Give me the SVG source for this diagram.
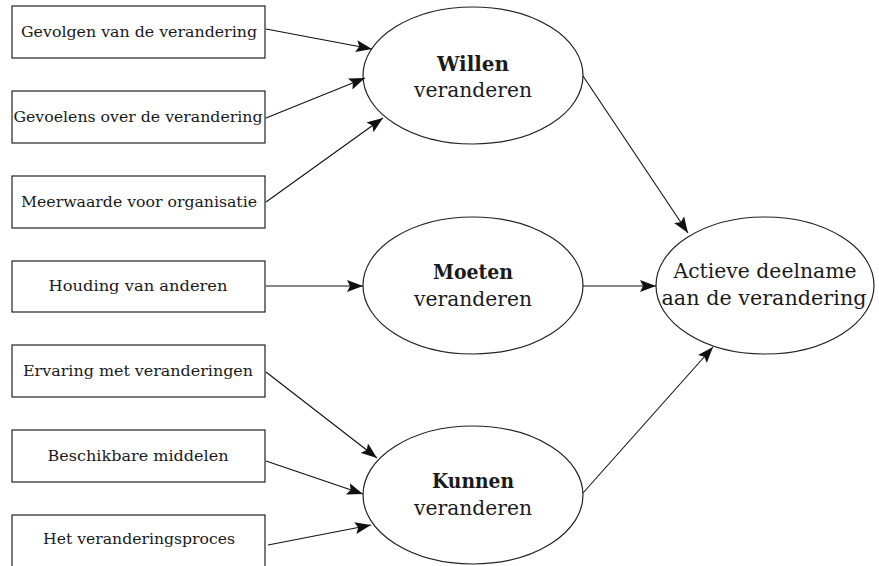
<svg xmlns="http://www.w3.org/2000/svg" width="879" height="566" viewBox="0 0 879 566">
<style>
.box{fill:#fff;stroke:#222;stroke-width:1.2}
.ell{fill:#fff;stroke:#222;stroke-width:1.2}
.bt{font-family:"DejaVu Serif","Liberation Serif",serif;font-size:14.5px;fill:#1a1a1a;text-anchor:middle}
.et{font-family:"DejaVu Serif","Liberation Serif",serif;font-size:20px;fill:#1a1a1a;text-anchor:middle}
.b{font-weight:bold}
.c{stroke:#111;stroke-width:1.1;fill:none;marker-end:url(#ah)}
</style>
<defs>
<marker id="ah" viewBox="0 0 16 12" refX="16" refY="6" markerWidth="16" markerHeight="12" markerUnits="userSpaceOnUse" orient="auto">
<path d="M0,0 L16,6 L0,12 L3,6 Z" fill="#111"/>
</marker>
</defs>
<rect width="879" height="566" fill="#fff"/>
<g id="box1"><rect class="box" x="12" y="6" width="253" height="52"/><text class="bt" x="139" y="37" textLength="236" lengthAdjust="spacingAndGlyphs">Gevolgen van de verandering</text></g>
<g id="box2"><rect class="box" x="12" y="91" width="253" height="52"/><text class="bt" x="138" y="122" textLength="249" lengthAdjust="spacingAndGlyphs">Gevoelens over de verandering</text></g>
<g id="box3"><rect class="box" x="12" y="176" width="253" height="52"/><text class="bt" x="139" y="207" textLength="236" lengthAdjust="spacingAndGlyphs">Meerwaarde voor organisatie</text></g>
<g id="box4"><rect class="box" x="12" y="261" width="253" height="51"/><text class="bt" x="138" y="291" textLength="179" lengthAdjust="spacingAndGlyphs">Houding van anderen</text></g>
<g id="box5"><rect class="box" x="12" y="345" width="253" height="52"/><text class="bt" x="138" y="376" textLength="230" lengthAdjust="spacingAndGlyphs">Ervaring met veranderingen</text></g>
<g id="box6"><rect class="box" x="12" y="430" width="253" height="52"/><text class="bt" x="138" y="461" textLength="181" lengthAdjust="spacingAndGlyphs">Beschikbare middelen</text></g>
<g id="box7"><rect class="box" x="12" y="515" width="253" height="53"/><text class="bt" x="139" y="544" textLength="192" lengthAdjust="spacingAndGlyphs">Het veranderingsproces</text></g>
<g id="willen"><ellipse class="ell" cx="473" cy="75.5" rx="110" ry="68.5"/><text class="et b" x="473" y="71" textLength="72" lengthAdjust="spacingAndGlyphs">Willen</text><text class="et" x="473" y="97" textLength="118" lengthAdjust="spacingAndGlyphs">veranderen</text></g>
<g id="moeten"><ellipse class="ell" cx="473" cy="285.5" rx="110" ry="68.5"/><text class="et b" x="473" y="279" textLength="80" lengthAdjust="spacingAndGlyphs">Moeten</text><text class="et" x="473" y="306" textLength="118" lengthAdjust="spacingAndGlyphs">veranderen</text></g>
<g id="kunnen"><ellipse class="ell" cx="473" cy="495" rx="110" ry="69"/><text class="et b" x="473" y="488" textLength="82" lengthAdjust="spacingAndGlyphs">Kunnen</text><text class="et" x="473" y="515" textLength="118" lengthAdjust="spacingAndGlyphs">veranderen</text></g>
<g id="actieve"><ellipse class="ell" cx="765" cy="285.5" rx="109" ry="68.5"/><text class="et" x="765" y="278" textLength="183" lengthAdjust="spacingAndGlyphs">Actieve deelname</text><text class="et" x="764" y="305" textLength="205" lengthAdjust="spacingAndGlyphs">aan de verandering</text></g>
<g id="connectors">
<line class="c" x1="266" y1="29" x2="372" y2="49"/>
<line class="c" x1="266" y1="118" x2="365" y2="78"/>
<line class="c" x1="266" y1="202" x2="383" y2="118"/>
<line class="c" x1="266" y1="286" x2="363" y2="286"/>
<line class="c" x1="266" y1="372" x2="377" y2="458"/>
<line class="c" x1="266" y1="461" x2="363" y2="494"/>
<line class="c" x1="268" y1="545" x2="371" y2="525"/>
<line class="c" x1="583" y1="76" x2="688" y2="233"/>
<line class="c" x1="583" y1="286" x2="656" y2="286"/>
<line class="c" x1="583" y1="493" x2="713" y2="347"/>
</g>
</svg>
